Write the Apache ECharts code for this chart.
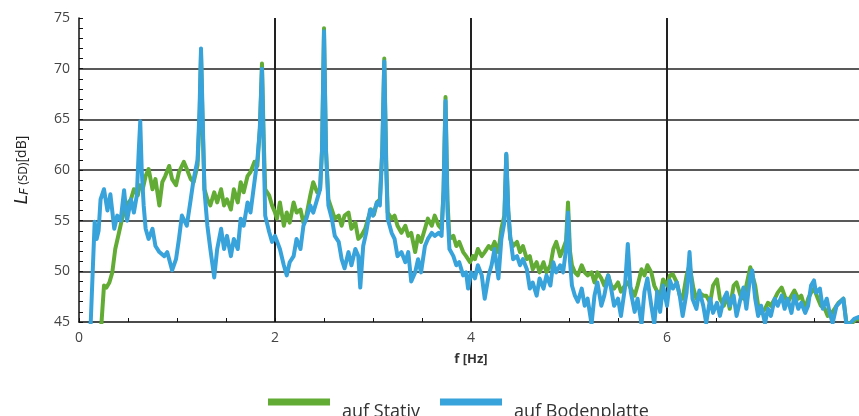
<!DOCTYPE html>
<html>
<head>
<meta charset="utf-8">
<script src="https://cdn.jsdelivr.net/npm/echarts@6/dist/echarts.min.js"></script>
<style>
html,body{margin:0;padding:0;background:#fff;}
#chart{width:859px;height:416px;}
</style>
</head>
<body>
<div id="chart"></div>
<script>
// ---- data ----
const seriesNames = ['auf Stativ', 'auf Bodenplatte'];
const xTicks = [0, 2, 4, 6, 8];
const yTicks = [45, 50, 55, 60, 65, 70, 75];

const freqStativ = [0.18,0.23,0.255,0.28,0.31,0.34,0.37,0.41,0.44,0.48,0.53,0.56,0.6,0.62,0.65,0.68,0.71,0.75,0.78,0.82,0.85,0.88,0.92,0.95,0.99,1.02,1.07,1.1,1.14,1.17,1.21,1.23,1.245,1.26,1.28,1.31,1.34,1.38,1.41,1.45,1.48,1.51,1.55,1.58,1.62,1.65,1.68,1.72,1.75,1.79,1.82,1.845,1.867,1.885,1.9,1.94,1.97,2.0,2.02,2.05,2.09,2.12,2.15,2.19,2.22,2.26,2.29,2.32,2.36,2.39,2.43,2.46,2.48,2.5,2.52,2.545,2.58,2.61,2.65,2.68,2.71,2.75,2.78,2.82,2.85,2.88,2.92,2.95,2.98,3.01,3.04,3.07,3.095,3.115,3.135,3.15,3.19,3.22,3.25,3.29,3.33,3.36,3.39,3.43,3.46,3.49,3.53,3.56,3.6,3.63,3.67,3.7,3.72,3.74,3.76,3.78,3.82,3.85,3.88,3.92,3.95,3.99,4.02,4.04,4.07,4.11,4.14,4.18,4.21,4.24,4.28,4.31,4.34,4.36,4.38,4.4,4.43,4.47,4.5,4.53,4.57,4.6,4.63,4.67,4.7,4.74,4.77,4.81,4.84,4.87,4.91,4.94,4.97,4.99,5.01,5.03,5.06,5.09,5.13,5.16,5.19,5.23,5.26,5.29,5.33,5.36,5.4,5.43,5.46,5.5,5.53,5.57,5.6,5.63,5.67,5.7,5.74,5.77,5.8,5.84,5.87,5.9,5.93,5.96,6.0,6.03,6.06,6.1,6.13,6.16,6.2,6.23,6.27,6.3,6.33,6.37,6.4,6.44,6.47,6.51,6.54,6.58,6.61,6.64,6.68,6.71,6.75,6.78,6.81,6.85,6.9,6.93,6.96,7.0,7.03,7.06,7.1,7.13,7.17,7.2,7.23,7.27,7.3,7.34,7.37,7.41,7.44,7.47,7.5,7.54,7.57,7.61,7.64,7.68,7.71,7.75,7.8,7.83,7.88,7.93,8.0];
const valStativ = [40,45,48.6,48.4,48.9,49.9,52.2,53.9,55.2,56.5,57.1,58.1,57.5,58.5,58.1,59.4,60.1,58.1,59.1,56.5,58.8,59.4,60.4,59.1,58.5,59.8,60.8,60.1,59.1,58.8,60.5,65,71.5,65,58.1,57.1,56.5,57.8,56.8,58.1,56.5,57.1,56.1,58.1,56.8,58.8,57.8,59.4,59.8,60.8,60.4,64,70.5,63,58.1,57.5,56.5,55.8,55.2,56.8,54.5,55.8,54.8,56.8,55.8,56.1,54.8,55.5,57.5,58.8,57.8,58.1,62,74,62,57.1,56.1,55.2,55.5,54.5,55.5,55.8,54.2,54.8,53.2,53.5,54.2,55.2,56.1,55.6,56.8,57.1,62,71,61,55.8,55.2,55.5,54.5,53.8,54.5,53.5,53.8,51.9,53.5,52.9,54.2,55.2,54.5,55.5,54.5,54.2,58,67.2,57,53.2,53.5,52.5,52.9,51.9,51.5,50.9,51.5,51.2,52.2,51.5,51.9,52.5,52.2,52.9,51.9,54.2,55.5,61.5,56,53.2,52.5,52.9,51.9,52.5,51.2,51.5,50.2,50.9,49.9,50.9,49.9,50.6,52.2,52.9,51.5,52.2,53,56.8,52,50.6,49.9,49.6,50.6,49.9,49.6,49.9,48.9,49.9,49.3,48.6,49.6,48.6,48.3,48.9,48,48.6,48.9,48.3,47.6,48.6,50.2,49.6,50.6,49.9,48.6,48,47.6,49.2,48.6,49.6,49.7,48.9,47.6,47.3,49.6,50.6,48.3,47.3,47.9,47.6,47.6,46.9,48.6,49.2,47.3,46.6,47.6,46.3,48.6,48.9,47.6,47.3,48.6,50.4,48.6,46.6,45.9,46.3,46.9,46.6,47.3,47.9,48.4,47.6,46.9,47.6,48.1,47.3,47.6,46.3,47.3,47.9,48.3,47.3,46.6,46.3,45.6,45.9,46.3,46.9,47.3,45,44.8,45.3,45.2];

const freqBoden = [0.08,0.12,0.14,0.16,0.18,0.2,0.22,0.255,0.29,0.32,0.36,0.39,0.425,0.46,0.49,0.53,0.56,0.59,0.61,0.625,0.64,0.66,0.68,0.71,0.75,0.78,0.82,0.87,0.9,0.95,0.99,1.02,1.05,1.1,1.14,1.17,1.21,1.23,1.245,1.26,1.28,1.31,1.34,1.38,1.41,1.45,1.48,1.51,1.55,1.58,1.62,1.65,1.68,1.72,1.75,1.79,1.82,1.845,1.867,1.885,1.9,1.94,1.97,2.0,2.02,2.05,2.09,2.12,2.15,2.19,2.22,2.26,2.29,2.32,2.36,2.39,2.43,2.46,2.48,2.5,2.52,2.545,2.58,2.61,2.65,2.68,2.71,2.75,2.78,2.82,2.85,2.87,2.9,2.93,2.97,3.0,3.04,3.07,3.095,3.115,3.135,3.15,3.19,3.22,3.25,3.29,3.33,3.36,3.39,3.43,3.46,3.49,3.53,3.56,3.6,3.63,3.67,3.7,3.72,3.74,3.76,3.78,3.82,3.85,3.88,3.92,3.95,3.97,4.0,4.04,4.07,4.11,4.14,4.18,4.21,4.24,4.28,4.31,4.34,4.36,4.38,4.4,4.43,4.47,4.5,4.53,4.57,4.6,4.63,4.67,4.7,4.74,4.77,4.81,4.84,4.87,4.91,4.94,4.97,4.99,5.01,5.03,5.06,5.09,5.13,5.16,5.19,5.23,5.26,5.29,5.33,5.36,5.4,5.43,5.46,5.5,5.53,5.57,5.6,5.63,5.67,5.7,5.74,5.77,5.8,5.84,5.87,5.9,5.93,5.96,6.0,6.03,6.06,6.1,6.13,6.16,6.2,6.23,6.26,6.3,6.33,6.37,6.4,6.44,6.47,6.51,6.54,6.58,6.61,6.64,6.68,6.71,6.75,6.78,6.81,6.85,6.87,6.9,6.93,6.96,7.0,7.03,7.06,7.1,7.13,7.17,7.2,7.23,7.27,7.3,7.34,7.37,7.41,7.44,7.47,7.5,7.52,7.56,7.59,7.63,7.66,7.69,7.73,7.76,7.8,7.83,7.86,7.91,7.96,8.0];
const valBoden = [40,45,50,54.9,53.2,54,57.1,58.1,56,57.6,54.2,55.5,55,58,55,57.1,55.8,57.5,62,64.8,60,56.5,54.2,53.2,54.2,52.5,51.9,51.5,51.9,50.1,51.2,53.2,55.5,54.5,57.1,59.1,61,66,72,66,58,54.5,52.2,49.4,52.2,54.2,52.2,53.5,51.5,53.2,52.2,55.2,54.5,56.8,55.8,58.8,61,64,70,62,55.5,53.9,52.9,53.5,53.5,52.2,50.6,49.6,50.9,51.5,53.2,52.2,54.5,55.2,56.5,55.8,57.1,58.1,62,73.7,62,56.5,55.2,53.5,52.9,51.2,50.3,51.9,50.6,52.2,51.5,48.4,52.5,53.8,56.1,55.5,56.8,56.5,62,70.7,60,55.2,53.8,53.2,51.5,51.9,50.9,51.9,49,49.9,51.2,49.9,52.5,53.2,53.8,53.5,53.8,53.5,58,66.8,56,52.2,51.5,50.6,50.9,49.6,49.9,48.3,49.9,49.3,50.6,49.6,47.3,49.6,50.6,52.2,49.3,53.2,54.8,61.6,56,53.5,51.2,51.5,50.6,51.2,50.2,48.3,48.9,47.6,49.3,48.3,49.6,48.6,50.9,49.9,50.6,49.9,52.2,55.8,51,48.6,47.6,47,48.3,46.6,47.3,44.8,47.6,48.9,46.6,47.6,49.6,48.3,46.6,47.3,45.6,48.3,52.7,48,46,47.3,44.8,48,49.3,46.6,44.8,48,46,48.6,46.6,49.1,48.3,48.9,47.6,45.6,47.9,51.9,47.3,46.3,48.1,46.6,44.9,47.3,45.9,46.9,45.6,47.3,47.9,46.6,47.6,45.6,47.3,48.4,46.3,49.6,50.1,47.3,45.6,46.6,44.9,46.3,45.6,47.3,46.6,47.6,46.3,47.3,45.9,47.6,46.3,46.9,45.9,46.6,48.6,49.1,47.9,48.3,46.3,47.3,45.9,44.9,46.6,46.9,47.3,44.8,44.8,45.3,45.5,45.3];

const colors = ['#62ac35', '#38a2da'];

function pairs(xs, ys) { return xs.map((x, i) => [x, ys[i]]); }

const chart = echarts.init(document.getElementById('chart'), null, {renderer: 'canvas'});
const axisLabelStyle = {color: '#444', fontSize: 14, fontFamily: 'Open Sans'};

chart.setOption({
  animation: false,
  color: colors,
  grid: {left: 79, top: 18, width: 784, height: 304, containLabel: false, outerBoundsMode: 'none'},
  xAxis: {
    type: 'value', min: xTicks[0], max: xTicks[xTicks.length - 1], interval: 2,
    name: 'f [Hz]', nameLocation: 'middle', nameGap: 31,
    nameTextStyle: {color: '#333', fontSize: 13, fontWeight: 'bold', fontFamily: 'Open Sans'},
    axisLine: {show: true, lineStyle: {color: '#111', width: 1.5}},
    axisTick: {show: true, inside: true, length: 4, lineStyle: {color: '#111'}},
    minorTick: {show: true, splitNumber: 4, length: 4, lineStyle: {color: '#111'}},
    axisLabel: Object.assign({margin: 9}, axisLabelStyle),
    splitLine: {show: true, showMinLine: false, lineStyle: {color: '#222', width: 2}}
  },
  yAxis: {
    type: 'value', min: yTicks[0], max: yTicks[yTicks.length - 1], interval: 5,
    name: '{l|L}{f|F}{s| (SD)}{d|[dB]}', nameLocation: 'middle', nameGap: 48, nameRotate: 90,
    nameTextStyle: {
      color: '#222',
      rich: {
        l: {fontSize: 17, fontStyle: 'italic', fontFamily: 'DejaVu Sans', color: '#222'},
        f: {fontSize: 12, fontStyle: 'italic', fontFamily: 'DejaVu Sans', color: '#222', padding: [4, 0, 0, 0]},
        s: {fontSize: 12, fontFamily: 'Open Sans', color: '#222', padding: [2, 0, 0, 0]},
        d: {fontSize: 14, fontFamily: 'Open Sans', color: '#222'}
      }
    },
    axisLine: {show: true, lineStyle: {color: '#111', width: 1.5}},
    axisTick: {show: true, inside: true, length: 4, lineStyle: {color: '#111'}},
    minorTick: {show: true, splitNumber: 5, length: 4, lineStyle: {color: '#111'}},
    axisLabel: Object.assign({margin: 9}, axisLabelStyle),
    splitLine: {show: true, showMinLine: false, showMaxLine: false, lineStyle: {color: '#222', width: 1.5}}
  },
  legend: {
    left: 268, top: 382, padding: 0,
    icon: 'rect', itemWidth: 62, itemHeight: 7, itemGap: 20,
    formatter: function (name) { return '\n' + name; },
    textStyle: {color: '#333', fontSize: 18, lineHeight: 20, fontFamily: 'Open Sans', padding: [0, 0, 0, 7]},
    data: seriesNames
  },
  series: [
    {
      name: seriesNames[0], type: 'line', data: pairs(freqStativ, valStativ),
      showSymbol: false, symbol: 'none', clip: true,
      lineStyle: {width: 4, color: colors[0], join: 'round'}, itemStyle: {color: colors[0]}
    },
    {
      name: seriesNames[1], type: 'line', data: pairs(freqBoden, valBoden),
      showSymbol: false, symbol: 'none', clip: true,
      lineStyle: {width: 4, color: colors[1], join: 'round'}, itemStyle: {color: colors[1]}
    }
  ]
});
</script>
</body>
</html>
